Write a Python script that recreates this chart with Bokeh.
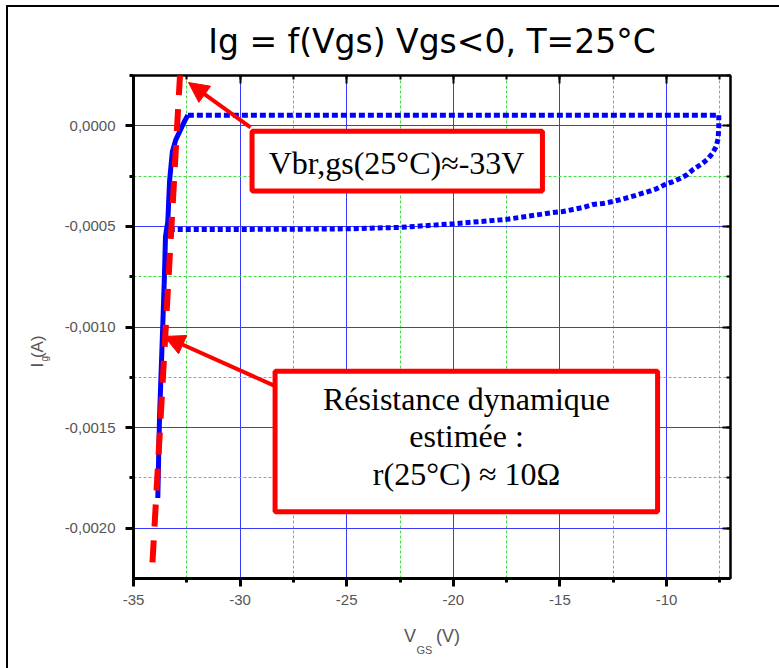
from bokeh.plotting import figure
from bokeh.models import (Range1d, SingleIntervalTicker, LinearAxis, CustomJSTickFormatter,
                          Label, BoxAnnotation, Arrow, NormalHead, Grid, Title)
from bokeh.embed import file_html
from bokeh.resources import INLINE

# ---- data ----
# steep (breakdown) branch, solid
steep_v = [-33.86, -33.78, -33.63, -33.55, -33.50, -33.39, -33.31, -33.18, -33.02, -32.84, -32.62, -32.45]
steep_i = [-0.00185, -0.00145, -0.00100, -0.00075, -0.00055, -0.000475, -0.000277, -0.000130, -0.000070, -0.000030, 0.000020, 0.000053]
# upper flat branch
upper_v = [-32.45, -7.55]
upper_i = [0.000053, 0.000053]
# return branch (right drop + lower branch)
lower_v = [-7.55, -7.55, -7.58, -7.68, -7.86, -8.10, -8.33, -8.76, -9.04, -9.37, -9.69, -10.07,
           -10.45, -10.87, -11.48, -11.95, -12.51, -12.98, -13.45, -13.92, -14.39, -14.86, -15.33,
           -17.5, -20.0, -22.5, -25.0, -27.5, -30.0, -33.3, -33.45]
lower_i = [0.000053, -0.000005, -0.000064, -0.000104, -0.000139, -0.000168, -0.000188, -0.000218,
           -0.000243, -0.000262, -0.000277, -0.000292, -0.000312, -0.000327, -0.000347, -0.000361,
           -0.000376, -0.000386, -0.000391, -0.000406, -0.000416, -0.000426, -0.000431,
           -0.000465, -0.000487, -0.000505, -0.000512, -0.000514, -0.000515, -0.000515, -0.00053]
# red fitted line (estimate)
fit_v = [-34.11, -32.70]
fit_i = [-0.00217, 0.000474]

title_text = "Ig = f(Vgs) Vgs<0, T=25°C"
box1_text = "Vbr,gs(25°C)≈-33V"
box2_lines = ["Résistance dynamique", "estimée :", "r(25°C) ≈ 10Ω"]
x_label_main = "V\u00a0\u00a0\u00a0\u00a0(V)"
x_label_sub = "GS"
y_label_main = "I\u00a0(A)"
y_label_sub = "g"

X0, X1 = -35.0, -7.0
Y0, Y1 = -0.00225, 0.00025

p = figure(width=771, height=661, output_backend="svg", toolbar_location=None,
           x_range=Range1d(X0, X1), y_range=Range1d(Y0, Y1),
           min_border_left=125, min_border_right=49, min_border_top=68, min_border_bottom=90,
           x_axis_type=None, y_axis_type=None)
p.styles = {"margin-left": "8px", "margin-top": "7px", "outline": "2px solid black"}
p.background_fill_color = "white"
p.border_fill_color = "white"
p.outline_line_color = "black"
p.outline_line_width = 2

xt = SingleIntervalTicker(interval=5, num_minor_ticks=2)
yt = SingleIntervalTicker(interval=0.0005, num_minor_ticks=2)

xfmt = CustomJSTickFormatter(code="return tick.toFixed(0);")
yfmt = CustomJSTickFormatter(code="if (Math.abs(tick) < 1e-12) return '0,0000'; return tick.toFixed(4).replace('.', ',');")
empty = CustomJSTickFormatter(code="return '';")

lab_font = "Liberation Sans"
lab_col = "#555555"

xa = LinearAxis(ticker=xt, formatter=xfmt)
ya = LinearAxis(ticker=yt, formatter=yfmt)
for a in (xa, ya):
    a.axis_line_width = 3
    a.major_tick_line_width = 3
    a.minor_tick_line_width = 3
    a.major_tick_out = 8
    a.major_tick_in = 0
    a.minor_tick_out = 4
    a.minor_tick_in = 0
    a.major_label_text_font = lab_font
    a.major_label_text_font_size = "15px"
    a.major_label_text_color = lab_col
xa.major_label_standoff = 8
ya.major_label_standoff = 10
p.add_layout(xa, "below")
p.add_layout(ya, "left")

xa2 = LinearAxis(ticker=xt, formatter=empty)
ya2 = LinearAxis(ticker=yt, formatter=empty)
for a in (xa2, ya2):
    a.axis_line_width = 2
    a.major_tick_line_width = 2
    a.minor_tick_line_width = 2
    a.major_tick_in = 8
    a.major_tick_out = 0
    a.minor_tick_in = 4
    a.minor_tick_out = 0
    a.major_label_text_font_size = "1px"
    a.major_label_standoff = 0
p.add_layout(xa2, "above")
p.add_layout(ya2, "right")

# title and axis labels (as titles in the side panels)
p.add_layout(Title(text=title_text, align="center", vertical_align="top", text_font="DejaVu Sans",
                   text_font_size="33px", text_font_style="normal", text_color="black", standoff=26), "above")

p.add_layout(Title(text=x_label_main, align="center", text_font=lab_font, text_font_size="18px",
                   text_font_style="normal", text_color=lab_col, standoff=33), "below")
p.add_layout(Title(text=x_label_sub, align="left", offset=283, vertical_align="top", text_font=lab_font,
                   text_font_size="11px", text_font_style="normal", text_color=lab_col, standoff=-38), "below")

p.add_layout(Title(text=y_label_sub, align="left", offset=217, text_font=lab_font, text_font_size="10px",
                   text_font_style="normal", text_color=lab_col, standoff=23), "left")
p.add_layout(Title(text=y_label_main, align="left", offset=211, text_font=lab_font, text_font_size="17px",
                   text_font_style="normal", text_color=lab_col, standoff=-43), "left")

# grids
for dim, tk in ((0, xt), (1, yt)):
    g = Grid(dimension=dim, ticker=tk)
    g.grid_line_color = "#3a3aff"
    g.grid_line_width = 1
    g.minor_grid_line_color = "#44dd44"
    g.minor_grid_line_dash = "3 2"
    g.minor_grid_line_width = 1
    p.add_layout(g, "center")

# curve
p.line(steep_v, steep_i, line_color="#0000ff", line_width=5)
p.line(upper_v, upper_i, line_color="#0000ff", line_width=5, line_dash="6 3")
p.line(lower_v, lower_i, line_color="#0000ff", line_width=5, line_dash="5 3")

RED = "#ff0000"
# fitted red dashed line
p.add_layout(Arrow(start=None, end=None, x_start=fit_v[0], y_start=fit_i[0], x_end=fit_v[1], y_end=fit_i[1],
                   line_color=RED, line_width=6, line_dash="22 14"))

# arrows
p.add_layout(Arrow(end=NormalHead(size=20, fill_color=RED, line_color=RED), line_color=RED, line_width=4,
                   x_start=-29.51, y_start=-0.0000084, x_end=-32.42, y_end=0.000215))
p.add_layout(Arrow(end=NormalHead(size=20, fill_color=RED, line_color=RED), line_color=RED, line_width=4,
                   x_start=-28.43, y_start=-0.00129, x_end=-33.55, y_end=-0.001047))

# boxes
p.add_layout(BoxAnnotation(left=-29.44, right=-15.82, top=-0.0000272, bottom=-0.000324,
                           fill_color="white", fill_alpha=1, line_color=RED, line_width=5, line_alpha=1))
p.add_layout(BoxAnnotation(left=-28.36, right=-10.42, top=-0.00122, bottom=-0.001918,
                           fill_color="white", fill_alpha=1, line_color=RED, line_width=5, line_alpha=1))

serif = "Liberation Serif"
p.add_layout(Label(x=-22.66, y=-0.000187, text=box1_text, text_align="center", text_baseline="middle",
                   text_font=serif, text_font_size="32px", text_color="black"))
for txt, yy in zip(box2_lines, [-0.001360, -0.001544, -0.001733]):
    p.add_layout(Label(x=-19.38, y=yy, text=txt, text_align="center", text_baseline="middle",
                       text_font=serif, text_font_size="32px", text_color="black"))

open("out.html", "w").write(file_html(p, INLINE))
